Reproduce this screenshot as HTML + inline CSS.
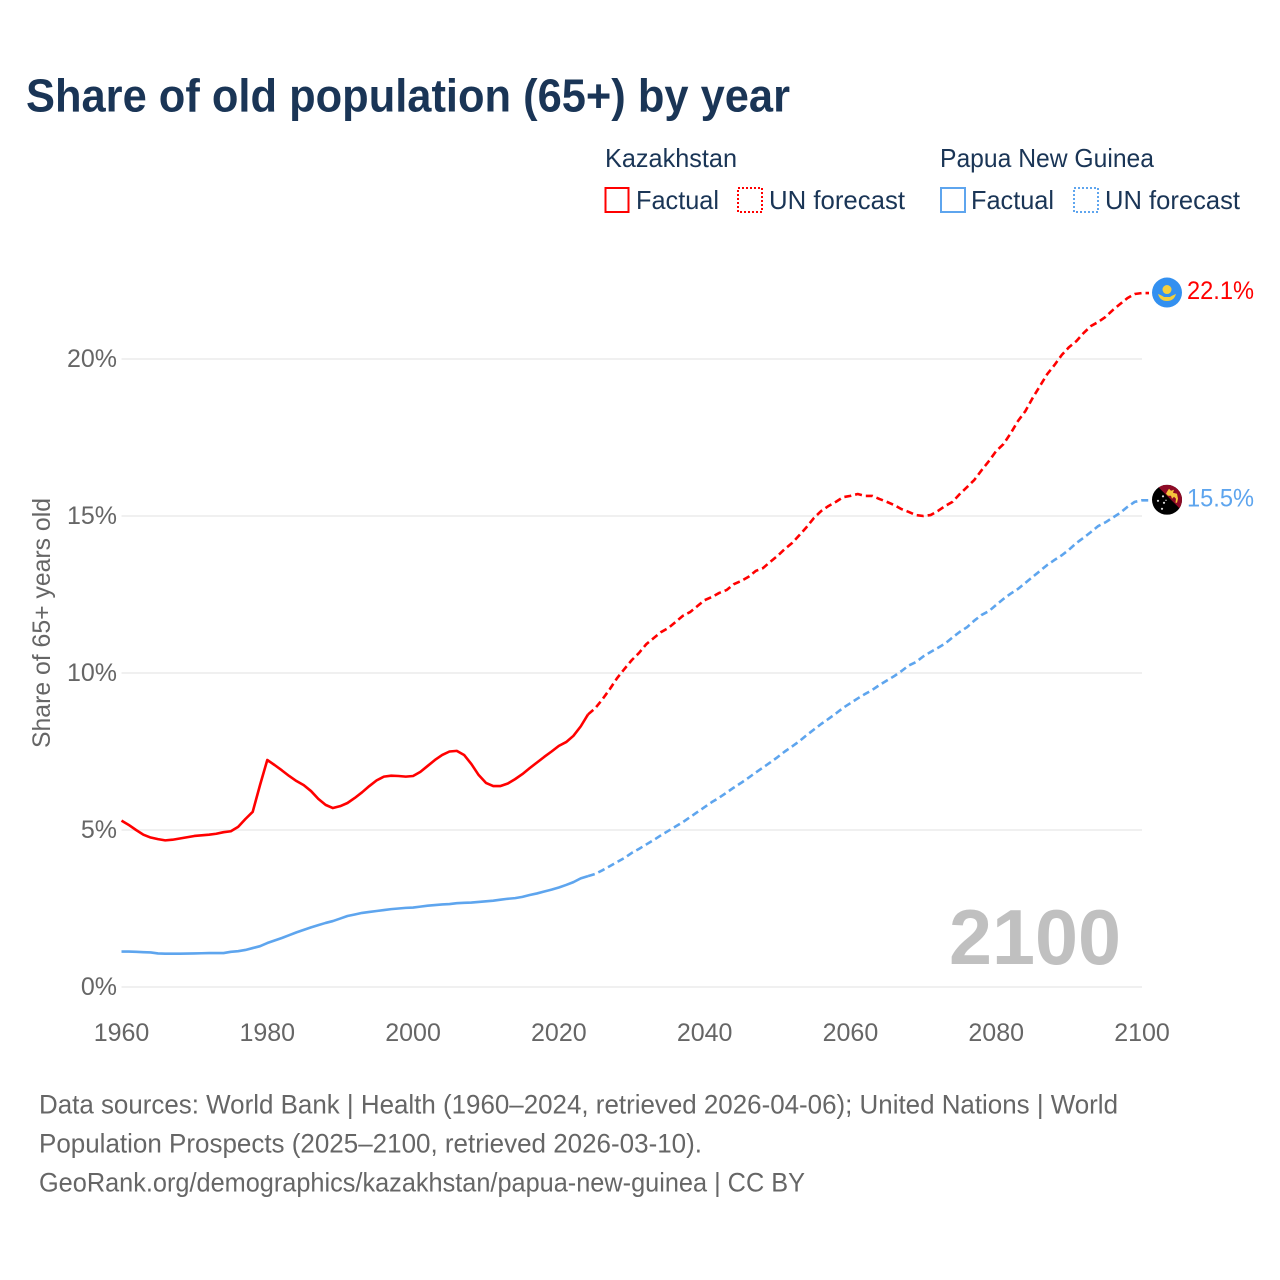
<!DOCTYPE html>
<html lang="en">
<head>
<meta charset="utf-8">
<title>Share of old population (65+) by year</title>
<style>
html,body{margin:0;padding:0;background:#fff}
svg{display:block}
text{font-family:"Liberation Sans",sans-serif}
</style>
</head>
<body>
<svg id="chart" xmlns="http://www.w3.org/2000/svg" width="1280" height="1280" viewBox="0 0 1280 1280">
  <rect x="0" y="0" width="1280" height="1280" fill="#fff"/>
  <text x="26" y="111.5" font-size="46" font-weight="700" fill="#1a3556" textLength="764" lengthAdjust="spacingAndGlyphs">Share of old population (65+) by year</text>

  <g font-size="26" fill="#1a3556">
    <text x="605" y="167" textLength="132" lengthAdjust="spacingAndGlyphs">Kazakhstan</text>
    <rect x="605.5" y="188" width="23" height="24" fill="none" stroke="#ff0000" stroke-width="2"/>
    <text x="636" y="209" textLength="83" lengthAdjust="spacingAndGlyphs">Factual</text>
    <rect x="738" y="188" width="24" height="24" fill="none" stroke="#ff0000" stroke-width="2" stroke-dasharray="2 2"/>
    <text x="769" y="209" textLength="136" lengthAdjust="spacingAndGlyphs">UN forecast</text>
    <text x="940" y="167" textLength="214" lengthAdjust="spacingAndGlyphs">Papua New Guinea</text>
    <rect x="941" y="188" width="24" height="24" fill="none" stroke="#5ea5ee" stroke-width="2"/>
    <text x="971" y="209" textLength="83" lengthAdjust="spacingAndGlyphs">Factual</text>
    <rect x="1074" y="188" width="24" height="24" fill="none" stroke="#5ea5ee" stroke-width="2" stroke-dasharray="2 2"/>
    <text x="1105" y="209" textLength="135" lengthAdjust="spacingAndGlyphs">UN forecast</text>
  </g>

  <g id="grid"></g>
  <g id="yticks"></g>
  <g id="xticks"></g>
  <text transform="translate(50,623) rotate(-90)" text-anchor="middle" font-size="25" fill="#666" textLength="250" lengthAdjust="spacingAndGlyphs">Share of 65+ years old</text>
  <text x="949" y="964" font-size="78" font-weight="700" fill="#c0c0c0" textLength="172" lengthAdjust="spacingAndGlyphs">2100</text>
  <g id="series"></g>

  <defs>
    <clipPath id="png-clip"><circle cx="0" cy="0" r="15"/></clipPath>
  </defs>
  <g id="flag-kz">
    <circle cx="0" cy="0" r="15" fill="#3390f0"/>
    <circle cx="0" cy="-3" r="4.5" fill="#f5cf3c"/>
    <path d="M-9 1.5 Q-5 3 -3 4.5 L3 4.5 Q5 3 9 1.5 Q7 8.5 0 8.5 Q-7 8.5 -9 1.5Z" fill="#f5cf3c"/>
  </g>
  <g id="flag-pg">
    <g clip-path="url(#png-clip)">
      <rect x="-15" y="-15" width="30" height="30" fill="#000"/>
      <path d="M-11 -15 L15 -15 L15 11Z" fill="#8e0a26"/>
      <path d="M0 -8 L2 -11 L4 -9 L7 -10 L6 -7 L10 -6 L11 -1 L10 3 L8.5 3 L9 -1 L7 -3 L5 -1 L4 -4 L1 -4 L-1 -6Z" fill="#f5c53c"/>
      <circle cx="-9" cy="1" r="1.1" fill="#ddd"/>
      <circle cx="-4" cy="-3.5" r="1.1" fill="#ddd"/>
      <circle cx="-3" cy="3" r="1.1" fill="#ddd"/>
      <circle cx="-1" cy="0.5" r="0.7" fill="#ddd"/>
      <circle cx="-5" cy="9" r="1.1" fill="#ddd"/>
    </g>
  </g>
  <g id="endlabels"></g>

  <g font-size="26.5" fill="#666">
    <text x="39" y="1113.5" textLength="1079" lengthAdjust="spacingAndGlyphs">Data sources: World Bank | Health (1960–2024, retrieved 2026-04-06); United Nations | World</text>
    <text x="39" y="1152.5" textLength="663" lengthAdjust="spacingAndGlyphs">Population Prospects (2025–2100, retrieved 2026-03-10).</text>
    <text x="39" y="1191.5" textLength="766" lengthAdjust="spacingAndGlyphs">GeoRank.org/demographics/kazakhstan/papua-new-guinea | CC BY</text>
  </g>
</svg>
<script>
var xTickYears = [1960, 1980, 2000, 2020, 2040, 2060, 2080, 2100];
var yTickValues = [0, 5, 10, 15, 20];
var yTickLabels = ['0%', '5%', '10%', '15%', '20%'];
var factualStartYear = 1960;
var forecastStartYear = 2024;

var kazFactual = [5.3,5.16,5.0,4.85,4.76,4.71,4.67,4.69,4.73,4.77,4.81,4.83,4.85,4.88,4.93,4.96,5.1,5.35,5.58,6.43,7.23,7.07,6.9,6.72,6.56,6.43,6.24,5.99,5.8,5.7,5.76,5.86,6.02,6.2,6.4,6.58,6.7,6.73,6.72,6.7,6.72,6.85,7.04,7.23,7.39,7.5,7.52,7.39,7.1,6.75,6.5,6.4,6.4,6.48,6.62,6.78,6.97,7.15,7.33,7.5,7.68,7.8,8.0,8.3,8.68];
var kazForecast = [8.68,8.88,9.17,9.49,9.84,10.13,10.41,10.64,10.92,11.11,11.3,11.43,11.62,11.82,11.94,12.13,12.32,12.42,12.55,12.64,12.83,12.93,13.06,13.25,13.34,13.54,13.73,13.95,14.14,14.39,14.65,14.94,15.16,15.32,15.45,15.6,15.64,15.7,15.64,15.64,15.54,15.45,15.35,15.22,15.13,15.03,15.0,15.03,15.16,15.32,15.45,15.7,15.92,16.15,16.46,16.75,17.07,17.29,17.64,18.03,18.34,18.76,19.14,19.52,19.81,20.13,20.38,20.57,20.83,21.05,21.18,21.34,21.56,21.75,21.94,22.07,22.1];
var pngFactual = [1.13,1.13,1.12,1.11,1.1,1.07,1.06,1.06,1.06,1.065,1.07,1.075,1.08,1.08,1.08,1.12,1.14,1.18,1.24,1.3,1.4,1.48,1.56,1.65,1.74,1.82,1.9,1.97,2.04,2.1,2.18,2.26,2.31,2.36,2.39,2.42,2.45,2.48,2.5,2.52,2.53,2.56,2.59,2.61,2.63,2.64,2.67,2.68,2.69,2.71,2.73,2.75,2.78,2.81,2.83,2.87,2.93,2.98,3.04,3.1,3.17,3.25,3.34,3.46,3.53];
var pngForecast = [3.53,3.6,3.72,3.85,3.98,4.11,4.27,4.4,4.54,4.68,4.83,4.97,5.11,5.25,5.41,5.57,5.73,5.89,6.03,6.19,6.35,6.5,6.66,6.83,6.99,7.15,7.32,7.5,7.66,7.83,8.02,8.2,8.38,8.54,8.71,8.89,9.04,9.19,9.33,9.46,9.62,9.76,9.9,10.06,10.24,10.35,10.53,10.67,10.8,10.94,11.13,11.31,11.46,11.67,11.85,11.97,12.17,12.36,12.53,12.68,12.87,13.06,13.25,13.44,13.6,13.75,13.93,14.14,14.31,14.49,14.68,14.8,14.95,15.1,15.29,15.45,15.5];

var NS = 'http://www.w3.org/2000/svg';
var RED = '#ff0000';
var BLUE = '#5ea5ee';

function xScale(year) { return 121.5 + (year - 1960) * (1142 - 121.5) / 140; }
function yScale(value) { return 987 - value * 31.4; }

function pathFor(values, startYear, tail) {
  var d = '';
  for (var i = 0; i < values.length; i++) {
    d += (i ? 'L' : 'M') + xScale(startYear + i).toFixed(2) + ' ' + yScale(values[i]).toFixed(2);
  }
  if (tail) {
    d += 'L' + (xScale(startYear + values.length - 1) + tail).toFixed(2) + ' ' + yScale(values[values.length - 1]).toFixed(2);
  }
  return d;
}

var gridGroup = document.getElementById('grid');
var yTickGroup = document.getElementById('yticks');
var xTickGroup = document.getElementById('xticks');
var seriesGroup = document.getElementById('series');
var endGroup = document.getElementById('endlabels');

yTickValues.forEach(function (v, i) {
  var line = document.createElementNS(NS, 'line');
  
  
  line.setAttribute('x1', xScale(1960));
  line.setAttribute('x2', xScale(2100));
  line.setAttribute('y1', yScale(v));
  line.setAttribute('y2', yScale(v));
  line.setAttribute('stroke', '#ececec');
  line.setAttribute('stroke-width', '1.5');
  gridGroup.appendChild(line);

  var label = document.createElementNS(NS, 'text');
  
  
  label.setAttribute('x', 117);
  label.setAttribute('y', yScale(v) + 8);
  label.setAttribute('text-anchor', 'end');
  label.setAttribute('font-size', '25');
  label.setAttribute('fill', '#666');
  label.textContent = yTickLabels[i];
  yTickGroup.appendChild(label);
});

xTickYears.forEach(function (yr) {
  var label = document.createElementNS(NS, 'text');
  
  
  label.setAttribute('x', xScale(yr));
  label.setAttribute('y', 1041);
  label.setAttribute('text-anchor', 'middle');
  label.setAttribute('font-size', '25');
  label.setAttribute('fill', '#666');
  label.textContent = String(yr);
  xTickGroup.appendChild(label);
});

function addLine(name, values, startYear, color, dashed) {
  var p = document.createElementNS(NS, 'path');
  
  
  p.setAttribute('d', pathFor(values, startYear, dashed ? 7 : 0));
  p.setAttribute('fill', 'none');
  p.setAttribute('stroke', color);
  p.setAttribute('stroke-width', '2.6');
  p.setAttribute('stroke-linejoin', 'round');
  if (dashed) { p.setAttribute('stroke-dasharray', '7 4'); }
  seriesGroup.appendChild(p);
}
addLine('kazakhstan-factual-line', kazFactual, factualStartYear, RED, false);
addLine('kazakhstan-forecast-line', kazForecast, forecastStartYear, RED, true);
addLine('png-factual-line', pngFactual, factualStartYear, BLUE, false);
addLine('png-forecast-line', pngForecast, forecastStartYear, BLUE, true);

function addEnd(flagId, name, values, color, width) {
  var last = values[values.length - 1];
  var y = yScale(last);
  document.getElementById(flagId).setAttribute('transform', 'translate(1167,' + (y - 0.5).toFixed(2) + ')');
  var t = document.createElementNS(NS, 'text');
  
  
  t.setAttribute('x', 1187);
  t.setAttribute('y', y + 6);
  t.setAttribute('font-size', '25');
  t.setAttribute('fill', color);
  t.setAttribute('textLength', width);
  t.setAttribute('lengthAdjust', 'spacingAndGlyphs');
  t.textContent = last.toFixed(1) + '%';
  endGroup.appendChild(t);
}
addEnd('flag-kz', 'kazakhstan-end-value', kazForecast, RED, 67);
addEnd('flag-pg', 'png-end-value', pngForecast, BLUE, 67);
</script>
</body>
</html>
